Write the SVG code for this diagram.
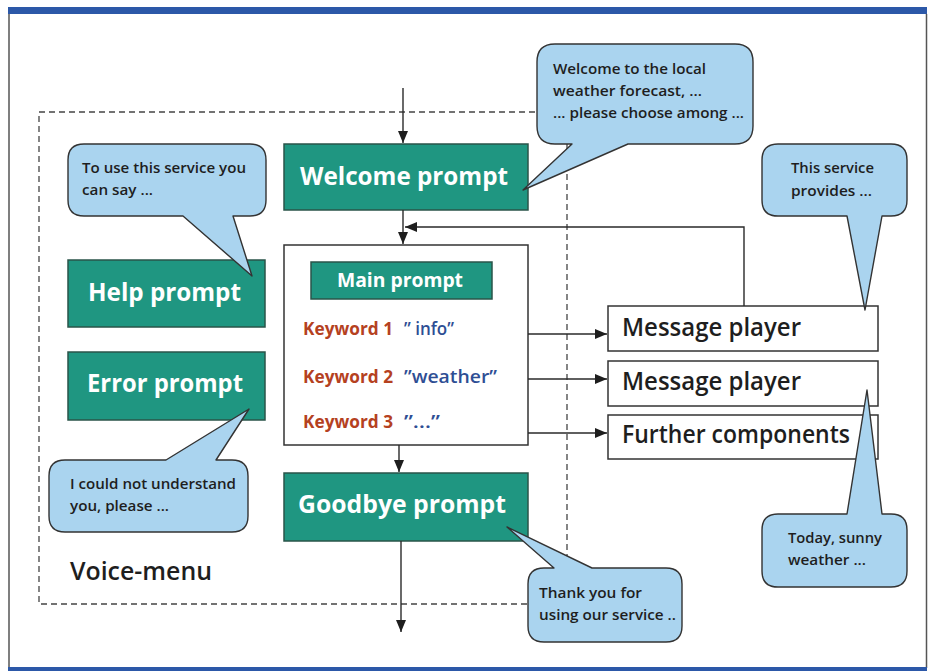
<svg xmlns="http://www.w3.org/2000/svg" width="930" height="671" viewBox="0 0 930 671">
<style>
.teal{fill:#1f9681;stroke:#2a5449;stroke-width:1.5}
.wbox{fill:#ffffff;stroke:#333333;stroke-width:1.5}
.bub{fill:#aad4ef;stroke:#333333;stroke-width:1.4;stroke-linejoin:round}
.wt{font-family:"Open Sans","Noto Sans",sans-serif;font-weight:700;fill:#ffffff}
.bt{font-family:"Open Sans","Noto Sans",sans-serif;font-weight:600;font-size:15px;fill:#1e1e1e}
.dt{font-family:"Open Sans","Noto Sans",sans-serif;font-weight:600;font-size:25px;fill:#1e1e1e}
.kw{font-family:"Open Sans","Noto Sans",sans-serif;font-weight:700;font-size:17.5px;fill:#b5411f}
.kq{font-family:"Open Sans","Noto Sans",sans-serif;font-weight:600;font-size:17.5px;fill:#2e4e94}
.ln{fill:none;stroke:#2a2a2a;stroke-width:1.4}
</style>
<defs>
<marker id="ah" viewBox="0 0 12 10" markerWidth="12" markerHeight="10" refX="12" refY="5" markerUnits="userSpaceOnUse" orient="auto">
<path d="M0,0 L12,5 L0,10 Z" fill="#1e1e1e"/>
</marker>
</defs>
<rect x="0" y="0" width="930" height="671" fill="#ffffff"/>
<g id="frame">
<rect x="8" y="7" width="919" height="7" fill="#2c58a8"/>
<line x1="9" y1="14" x2="9" y2="668" stroke="#555555" stroke-width="1.5"/>
<line x1="926.5" y1="14" x2="926.5" y2="668" stroke="#555555" stroke-width="1.5"/>
<rect x="8" y="667" width="919" height="4" fill="#2c58a8"/>
</g>
<g id="voice-menu">
<rect x="39" y="112" width="528" height="492" fill="none" stroke="#444444" stroke-width="1.3" stroke-dasharray="6,4"/>
<text class="dt" x="70" y="580" textLength="142" lengthAdjust="spacingAndGlyphs">Voice-menu</text>
</g>
<g id="welcome-prompt">
<rect class="teal" x="284" y="144" width="244" height="66"/>
<text class="wt" x="300" y="185" font-size="25" textLength="208" lengthAdjust="spacingAndGlyphs">Welcome prompt</text>
</g>
<g id="help-prompt">
<rect class="teal" x="68" y="260" width="197" height="67"/>
<text class="wt" x="88" y="301" font-size="25" textLength="153" lengthAdjust="spacingAndGlyphs">Help prompt</text>
</g>
<g id="error-prompt">
<rect class="teal" x="68" y="352" width="197" height="68"/>
<text class="wt" x="87" y="392" font-size="25" textLength="156" lengthAdjust="spacingAndGlyphs">Error prompt</text>
</g>
<g id="main-menu">
<rect class="wbox" x="284" y="245" width="244" height="200"/>
<rect class="teal" x="311" y="262" width="181" height="37"/>
<text class="wt" x="337" y="287" font-size="20" textLength="126" lengthAdjust="spacingAndGlyphs">Main prompt</text>
<text class="kw" x="303" y="335" textLength="90" lengthAdjust="spacingAndGlyphs">Keyword 1</text>
<text class="kq" x="404" y="335" textLength="50" lengthAdjust="spacingAndGlyphs">” info”</text>
<text class="kw" x="303" y="383" textLength="90" lengthAdjust="spacingAndGlyphs">Keyword 2</text>
<text class="kq" x="404" y="383" textLength="93" lengthAdjust="spacingAndGlyphs">”weather”</text>
<text class="kw" x="303" y="428" textLength="90" lengthAdjust="spacingAndGlyphs">Keyword 3</text>
<text class="kq" x="404" y="428" textLength="36" lengthAdjust="spacingAndGlyphs">”…”</text>
</g>
<g id="goodbye-prompt">
<rect class="teal" x="284" y="473" width="244" height="68"/>
<text class="wt" x="298" y="513" font-size="25" textLength="208" lengthAdjust="spacingAndGlyphs">Goodbye prompt</text>
</g>
<g id="message-player-1">
<rect class="wbox" x="608" y="306" width="270" height="45"/>
<text class="dt" x="622" y="336" textLength="179" lengthAdjust="spacingAndGlyphs">Message player</text>
</g>
<g id="message-player-2">
<rect class="wbox" x="608" y="361" width="270" height="45"/>
<text class="dt" x="622" y="390" textLength="179" lengthAdjust="spacingAndGlyphs">Message player</text>
</g>
<g id="further-components">
<rect class="wbox" x="608" y="415" width="270" height="44"/>
<text class="dt" x="622" y="443" textLength="228" lengthAdjust="spacingAndGlyphs">Further components</text>
</g>
<g id="connectors">
<line class="ln" x1="403" y1="88" x2="403" y2="143" marker-end="url(#ah)"/>
<line class="ln" x1="403" y1="210" x2="403" y2="244" marker-end="url(#ah)"/>
<polyline class="ln" points="744,306 744,227 405,227" marker-end="url(#ah)"/>
<line class="ln" x1="528" y1="334" x2="607" y2="334" marker-end="url(#ah)"/>
<line class="ln" x1="528" y1="379" x2="607" y2="379" marker-end="url(#ah)"/>
<line class="ln" x1="528" y1="433" x2="607" y2="433" marker-end="url(#ah)"/>
<line class="ln" x1="399" y1="445" x2="399" y2="472" marker-end="url(#ah)"/>
<line class="ln" x1="401" y1="541" x2="401" y2="632" marker-end="url(#ah)"/>
</g>
<g id="bubble-welcome">
<path class="bub" d="M555,44 H735 Q753,44 753,62 V126 Q753,144 735,144 H628 L523,190 L572,144 H555 Q537,144 537,126 V62 Q537,44 555,44 Z"/>
<text class="bt" x="553" y="74" textLength="153" lengthAdjust="spacingAndGlyphs">Welcome to the local</text>
<text class="bt" x="553" y="96" textLength="149" lengthAdjust="spacingAndGlyphs">weather forecast, …</text>
<text class="bt" x="553" y="118" textLength="191" lengthAdjust="spacingAndGlyphs">... please choose among ...</text>
</g>
<g id="bubble-help">
<path class="bub" d="M84,144 H250 Q266,144 266,160 V200 Q266,216 250,216 H233 L252,276 L183,216 H84 Q68,216 68,200 V160 Q68,144 84,144 Z"/>
<text class="bt" x="82" y="173" textLength="164" lengthAdjust="spacingAndGlyphs">To use this service you</text>
<text class="bt" x="82" y="195" textLength="71" lengthAdjust="spacingAndGlyphs">can say ...</text>
</g>
<g id="bubble-service">
<path class="bub" d="M778,144 H891 Q907,144 907,160 V200 Q907,216 891,216 H882 L865,310 L847,216 H778 Q762,216 762,200 V160 Q762,144 778,144 Z"/>
<text class="bt" x="791" y="173" textLength="83" lengthAdjust="spacingAndGlyphs">This service</text>
<text class="bt" x="791" y="196" textLength="81" lengthAdjust="spacingAndGlyphs">provides ...</text>
</g>
<g id="bubble-error">
<path class="bub" d="M65,460 H166 L249,409 L216,460 H232 Q248,460 248,476 V516 Q248,532 232,532 H65 Q49,532 49,516 V476 Q49,460 65,460 Z"/>
<text class="bt" x="70" y="489" textLength="166" lengthAdjust="spacingAndGlyphs">I could not understand</text>
<text class="bt" x="70" y="511" textLength="99" lengthAdjust="spacingAndGlyphs">you, please ...</text>
</g>
<g id="bubble-today">
<path class="bub" d="M778,514 H847 L867,390 L882,514 H891 Q907,514 907,530 V571 Q907,587 891,587 H778 Q762,587 762,571 V530 Q762,514 778,514 Z"/>
<text class="bt" x="788" y="543" textLength="94" lengthAdjust="spacingAndGlyphs">Today, sunny</text>
<text class="bt" x="788" y="565" textLength="78" lengthAdjust="spacingAndGlyphs">weather ...</text>
</g>
<g id="bubble-thanks">
<path class="bub" d="M544,568 H554 L507,527 L592,568 H666 Q682,568 682,584 V626 Q682,642 666,642 H544 Q528,642 528,626 V584 Q528,568 544,568 Z"/>
<text class="bt" x="539" y="598" textLength="103" lengthAdjust="spacingAndGlyphs">Thank you for</text>
<text class="bt" x="539" y="620" textLength="137" lengthAdjust="spacingAndGlyphs">using our service ..</text>
</g>
</svg>
